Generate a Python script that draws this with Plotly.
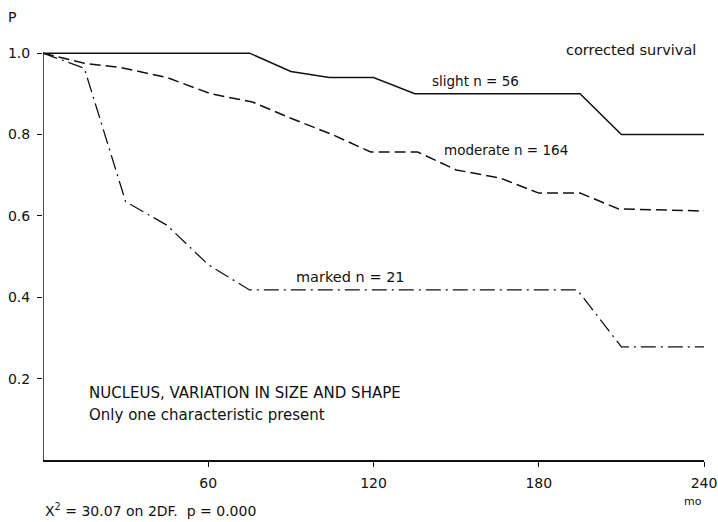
import plotly.graph_objects as go

# Corrected survival by degree of nuclear variation (months vs. proportion surviving)
slight_t = [0, 75, 90, 104, 120, 135, 195, 210, 240]
slight_p = [1.0, 1.0, 0.955, 0.94, 0.94, 0.90, 0.90, 0.80, 0.80]

moderate_t = [0, 15, 28, 45, 61, 76, 90, 105, 119, 136, 150, 166, 180, 195, 209, 240]
moderate_p = [1.0, 0.975, 0.965, 0.94, 0.90, 0.88, 0.84, 0.80, 0.757, 0.757, 0.713, 0.693, 0.656, 0.656, 0.617, 0.612]

marked_t = [0, 15, 30, 45, 60, 75, 194, 210, 240]
marked_p = [1.0, 0.963, 0.635, 0.577, 0.48, 0.418, 0.418, 0.278, 0.278]

x_ticks = [60, 120, 180, 240]
y_ticks = [0.2, 0.4, 0.6, 0.8, 1.0]
y_tick_text = ["0.2", "0.4", "0.6", "0.8", "1.0"]

FONT = "DejaVu Sans"
INK = "#111111"

fig = go.Figure()
fig.add_trace(go.Scatter(x=slight_t, y=slight_p, mode="lines",
                         line=dict(color=INK, width=1.5, dash="solid"), name="slight"))
fig.add_trace(go.Scatter(x=moderate_t, y=moderate_p, mode="lines",
                         line=dict(color=INK, width=1.5, dash="11px,5px"), name="moderate"))
fig.add_trace(go.Scatter(x=marked_t, y=marked_p, mode="lines",
                         line=dict(color=INK, width=1.3, dash="15px,5px,2px,5px"), name="marked"))

# y axis line drawn only up to 1.0
fig.add_shape(type="line", xref="x", yref="y", x0=0, x1=0, y0=0, y1=1.0,
              line=dict(color=INK, width=1.5))

fig.update_layout(
    width=718, height=522,
    margin=dict(l=43, r=14, t=45, b=62),
    paper_bgcolor="white", plot_bgcolor="white",
    showlegend=False,
    font=dict(family=FONT, size=14, color=INK),
    xaxis=dict(range=[0, 240], tickvals=x_ticks, ticks="outside", ticklen=5,
               tickwidth=1.3, tickcolor=INK, showline=True, linecolor=INK, linewidth=1.5,
               showgrid=False, zeroline=False, ticklabelstandoff=4, automargin=False,
               tickfont=dict(size=14, family=FONT)),
    yaxis=dict(range=[0, 1.02], tickvals=y_ticks, ticktext=y_tick_text, ticks="outside",
               ticklen=5, tickwidth=1.3, tickcolor=INK, showline=False,
               showgrid=False, zeroline=False, ticklabelstandoff=4, automargin=False,
               tickfont=dict(size=14, family=FONT)),
)

def note(text, x, y, xanchor="center", xref="x", yref="y", size=13):
    fig.add_annotation(text=text, x=x, y=y, xref=xref, yref=yref, xanchor=xanchor,
                       yanchor="middle", showarrow=False,
                       font=dict(family=FONT, size=size, color=INK))

note("slight n = 56", 157, 0.931, size=13.5)
note("moderate n = 164", 168, 0.762, size=13.5)
note("marked n = 21", 111.5, 0.45, size=14.5)
note("corrected survival", 238, 1.007, xanchor="right", size=14.5)
note("NUCLEUS, VARIATION IN SIZE AND SHAPE", 16, 0.165, xanchor="left", size=15)
note("Only one characteristic present", 16, 0.11, xanchor="left", size=15)
note("P", -0.047, 1.067, xref="paper", yref="paper", size=14)
note("mo", 0.983, -0.1, xref="paper", yref="paper", size=11)
note("X<sup>2</sup> = 30.07 on 2DF.  p = 0.000", 0.0, -0.12, xanchor="left",
     xref="paper", yref="paper", size=14)

fig.write_html("out.html")
